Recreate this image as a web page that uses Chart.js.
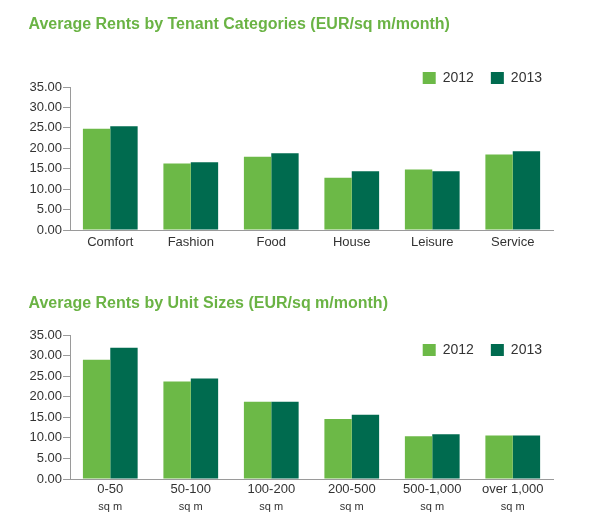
<!DOCTYPE html>
<html>
<head>
<meta charset="utf-8">
<script src="https://cdn.jsdelivr.net/npm/chart.js@4.4.1/dist/chart.umd.min.js"></script>
<style>
  html, body { margin: 0; padding: 0; background: #ffffff; }
  #w1 { position: absolute; left: 0; top: 0; width: 600px; height: 260px; }
  #w2 { position: absolute; left: 0; top: 260px; width: 600px; height: 263px; }
</style>
</head>
<body>
<div id="w1"><canvas id="c1"></canvas></div>
<div id="w2"><canvas id="c2"></canvas></div>
<script>
// ---- data ----
const seriesNames = ['2012', '2013'];

const tenantTitle = 'Average Rents by Tenant Categories (EUR/sq m/month)';
const tenantCategories = ['Comfort', 'Fashion', 'Food', 'House', 'Leisure', 'Service'];
const tenant2012 = [24.8, 16.3, 17.9, 12.8, 14.8, 18.5];
const tenant2013 = [25.4, 16.6, 18.8, 14.4, 14.4, 19.3];

const unitTitle = 'Average Rents by Unit Sizes (EUR/sq m/month)';
const unitSizes = ['0-50', '50-100', '100-200', '200-500', '500-1,000', 'over 1,000'];
const unitSubLabels = ['sq m', 'sq m', 'sq m', 'sq m', 'sq m', 'sq m'];
const unit2012 = [29.0, 23.7, 18.8, 14.6, 10.4, 10.6];
const unit2013 = [31.9, 24.4, 18.8, 15.6, 10.9, 10.6];

const yMin = 0, yMax = 35, yStep = 5;

// ---- styles ----
const lightGreen = '#6cb947';
const darkGreen = '#006b4f';
const titleGreen = '#6ab344';
const textColor = '#333333';
const axisColor = '#9a9a9a';
const FONT = 'Liberation Sans, Arial, sans-serif';

// place the legend relative to the chart area (top-right)
const legendPlace = {
  id: 'legendPlace',
  afterLayout(chart, args, opts) {
    const l = chart.legend, ca = chart.chartArea;
    if (!l) return;
    const h = 40;
    l.right = ca.right + opts.dx;
    l.top = ca.top + opts.dy;
    l.bottom = l.top + h;
    l.height = h;
  }
};

function makeChart(canvasId, title, labels, d1, d2, cfg) {
  const scales = {
    x: {
      offset: true,
      grid: { display: false, drawTicks: false },
      border: { display: true, color: axisColor, width: 1 },
      ticks: { color: textColor, font: { family: FONT, size: 13 }, padding: cfg.xPad, maxRotation: 0, autoSkip: false }
    },
    y: {
      min: yMin, max: yMax,
      grid: { display: true, drawOnChartArea: false, drawTicks: true, tickLength: 7, color: axisColor },
      border: { display: true, color: axisColor, width: 1 },
      ticks: { stepSize: yStep, color: textColor, font: { family: FONT, size: 13 }, padding: 1,
               callback: v => Number(v).toFixed(2) }
    }
  };
  if (cfg.subLabels) {
    scales.x2 = {
      type: 'category', labels: cfg.subLabels, position: 'bottom', offset: true, weight: 1,
      grid: { display: false, drawTicks: false },
      border: { display: false },
      ticks: { color: textColor, font: { family: FONT, size: 11 }, padding: 0, maxRotation: 0, autoSkip: false }
    };
  }
  return new Chart(document.getElementById(canvasId), {
    type: 'bar',
    data: {
      labels: labels,
      datasets: [
        { label: seriesNames[0], data: d1, backgroundColor: lightGreen, borderWidth: 0 },
        { label: seriesNames[1], data: d2, backgroundColor: darkGreen, borderWidth: 0 }
      ]
    },
    options: {
      responsive: true,
      maintainAspectRatio: false,
      animation: false,
      devicePixelRatio: 1,
      categoryPercentage: 0.68,
      barPercentage: 1.0,
      layout: { padding: { left: 28.5, right: 47, top: 0, bottom: cfg.padBottom } },
      scales: scales,
      plugins: {
        title: {
          display: true, text: title, align: 'start', color: titleGreen,
          font: { family: FONT, size: 16, weight: 'bold' },
          padding: { top: cfg.titleTop, bottom: cfg.titleBottom }
        },
        legend: {
          position: 'top', align: 'end', maxHeight: 1,
          labels: { boxWidth: 13, boxHeight: 12, padding: 17, color: textColor,
                    font: { family: FONT, size: 14 } }
        },
        legendPlace: { dx: 6, dy: cfg.legendDy },
        tooltip: { enabled: false }
      }
    },
    plugins: [legendPlace]
  });
}

makeChart('c1', tenantTitle, tenantCategories, tenant2012, tenant2013,
  { titleTop: 15, titleBottom: 51.8, padBottom: 4.4, xPad: 5, legendDy: -33 });
makeChart('c2', unitTitle, unitSizes, unit2012, unit2013,
  { titleTop: 34.4, titleBottom: 20.4, padBottom: 9.2, xPad: 3, legendDy: -9, subLabels: unitSubLabels });
</script>
</body>
</html>
